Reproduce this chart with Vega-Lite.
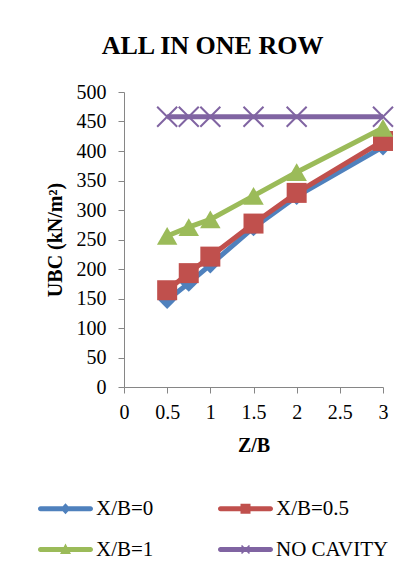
{
  "$schema": "https://vega.github.io/schema/vega-lite/v6.json",
  "width": 259,
  "height": 295,
  "autosize": {"type": "none"},
  "padding": {"left": 124, "top": 92, "right": 28, "bottom": 189},
  "background": "white",
  "title": {
    "text": "ALL IN ONE ROW",
    "font": "Liberation Serif",
    "fontSize": 26,
    "fontWeight": "bold",
    "color": "black",
    "anchor": "middle",
    "dx": -41,
    "offset": 23
  },
  "config": {
    "view": {"stroke": null},
    "font": "Liberation Serif",
    "axis": {
      "grid": false,
      "domainColor": "#868686",
      "tickColor": "#868686",
      "domainWidth": 1,
      "tickWidth": 1,
      "tickSize": 6,
      "labelFont": "Liberation Serif",
      "labelFontSize": 20,
      "labelColor": "black",
      "titleFont": "Liberation Serif",
      "titleFontSize": 20,
      "titleFontWeight": "bold",
      "titleColor": "black"
    }
  },
  "data": {
    "values": [
      {"series": "X/B=0", "zb": 0.5, "ubc": 147},
      {"series": "X/B=0", "zb": 0.75, "ubc": 176},
      {"series": "X/B=0", "zb": 1, "ubc": 207},
      {"series": "X/B=0", "zb": 1.5, "ubc": 270},
      {"series": "X/B=0", "zb": 2, "ubc": 323},
      {"series": "X/B=0", "zb": 3, "ubc": 407},
      {"series": "X/B=0.5", "zb": 0.5, "ubc": 164},
      {"series": "X/B=0.5", "zb": 0.75, "ubc": 193},
      {"series": "X/B=0.5", "zb": 1, "ubc": 221},
      {"series": "X/B=0.5", "zb": 1.5, "ubc": 277},
      {"series": "X/B=0.5", "zb": 2, "ubc": 329},
      {"series": "X/B=0.5", "zb": 3, "ubc": 417},
      {"series": "X/B=1", "zb": 0.5, "ubc": 256},
      {"series": "X/B=1", "zb": 0.75, "ubc": 271},
      {"series": "X/B=1", "zb": 1, "ubc": 284},
      {"series": "X/B=1", "zb": 1.5, "ubc": 324},
      {"series": "X/B=1", "zb": 2, "ubc": 364},
      {"series": "X/B=1", "zb": 3, "ubc": 439},
      {"series": "NO CAVITY", "zb": 0.5, "ubc": 458},
      {"series": "NO CAVITY", "zb": 0.75, "ubc": 458},
      {"series": "NO CAVITY", "zb": 1, "ubc": 458},
      {"series": "NO CAVITY", "zb": 1.5, "ubc": 458},
      {"series": "NO CAVITY", "zb": 2, "ubc": 458},
      {"series": "NO CAVITY", "zb": 3, "ubc": 458}
    ]
  },
  "encoding": {
    "x": {
      "field": "zb",
      "type": "quantitative",
      "title": "Z/B",
      "scale": {"domain": [0, 3], "nice": false, "zero": false},
      "axis": {"values": [0, 0.5, 1, 1.5, 2, 2.5, 3], "format": "~g", "labelPadding": 9, "titlePadding": 13, "labelFlush": false}
    },
    "y": {
      "field": "ubc",
      "type": "quantitative",
      "title": "UBC (kN/m²)",
      "scale": {"domain": [0, 500], "nice": false},
      "axis": {"values": [0, 50, 100, 150, 200, 250, 300, 350, 400, 450, 500], "labelPadding": 12, "titlePadding": 11}
    }
  },
  "layer": [
    {
      "transform": [{"filter": "datum.series == 'X/B=0'"}],
      "layer": [
        {"mark": {"type": "line", "strokeWidth": 5, "color": "#4F81BD"}, "encoding": {}},
        {"mark": {"type": "point", "shape": "diamond", "filled": true, "opacity": 1, "size": 300, "color": "#4F81BD"}}
      ]
    },
    {
      "transform": [{"filter": "datum.series == 'X/B=0.5'"}],
      "layer": [
        {"mark": {"type": "line", "strokeWidth": 5, "color": "#C0504D"}, "encoding": {}},
        {"mark": {"type": "point", "shape": "square", "filled": true, "opacity": 1, "size": 400, "color": "#C0504D"}}
      ]
    },
    {
      "transform": [{"filter": "datum.series == 'X/B=1'"}],
      "layer": [
        {"mark": {"type": "line", "strokeWidth": 5, "color": "#9BBB59"}, "encoding": {}},
        {"mark": {"type": "point", "shape": "triangle-up", "filled": true, "opacity": 1, "size": 420, "color": "#9BBB59"}}
      ]
    },
    {
      "transform": [{"filter": "datum.series == 'NO CAVITY'"}],
      "layer": [
        {"mark": {"type": "line", "strokeWidth": 5, "color": "#8064A2"}, "encoding": {}},
        {"mark": {"type": "point", "shape": "M-1,-1L1,1M-1,1L1,-1", "filled": false, "opacity": 1, "size": 400, "strokeWidth": 2, "color": "#8064A2"}}
      ]
    },
    {
      "transform": [{"filter": "datum.ubc < 0"}],
      "mark": {"type": "point", "filled": true, "opacity": 1, "size": 400},
      "encoding": {
        "color": {
          "field": "series",
          "type": "nominal",
          "scale": {
            "domain": ["X/B=0", "X/B=0.5", "X/B=1", "NO CAVITY"],
            "range": ["#4F81BD", "#C0504D", "#9BBB59", "#8064A2"]
          },
          "legend": {
            "title": null,
            "orient": "none",
            "direction": "horizontal",
            "legendX": -86,
            "legendY": 406,
            "columns": 2,
            "columnPadding": 64,
            "rowPadding": 19,
            "padding": 0,
            "symbolSize": 400,
            "symbolStrokeWidth": 0,
            "symbolOpacity": 1,
            "symbolOffset": 17,
            "labelOffset": 20,
            "labelFont": "Liberation Serif",
            "labelFontSize": 21,
            "labelColor": "black",
            "labelLimit": 200
          }
        },
        "shape": {
          "field": "series",
          "type": "nominal",
          "scale": {
            "domain": ["X/B=0", "X/B=0.5", "X/B=1", "NO CAVITY"],
            "range": [
              "M-2.5,-0.25H2.5A0.25,0.25 0 0 1 2.5,0.25H-2.5A0.25,0.25 0 0 1 -2.5,-0.25Z M0,-0.55L0.5,0L0,0.55L-0.5,0Z",
              "M-2.5,-0.25H2.5A0.25,0.25 0 0 1 2.5,0.25H-2.5A0.25,0.25 0 0 1 -2.5,-0.25Z M-0.5,-0.5H0.5V0.5H-0.5Z",
              "M-2.5,-0.25H2.5A0.25,0.25 0 0 1 2.5,0.25H-2.5A0.25,0.25 0 0 1 -2.5,-0.25Z M0,-0.6L0.55,0.45L-0.55,0.45Z",
              "M-2.5,-0.25H2.5A0.25,0.25 0 0 1 2.5,0.25H-2.5A0.25,0.25 0 0 1 -2.5,-0.25Z M-0.343,-0.457L0.457,0.343L0.343,0.457L-0.457,-0.343Z M-0.457,0.343L0.343,-0.457L0.457,-0.343L-0.343,0.457Z"
            ]
          },
          "legend": {
            "title": null,
            "orient": "none",
            "direction": "horizontal",
            "legendX": -86,
            "legendY": 406,
            "columns": 2,
            "columnPadding": 64,
            "rowPadding": 19,
            "padding": 0,
            "symbolSize": 400,
            "symbolStrokeWidth": 0,
            "symbolOpacity": 1,
            "symbolOffset": 17,
            "labelOffset": 20,
            "labelFont": "Liberation Serif",
            "labelFontSize": 21,
            "labelColor": "black",
            "labelLimit": 200
          }
        }
      }
    }
  ]
}
